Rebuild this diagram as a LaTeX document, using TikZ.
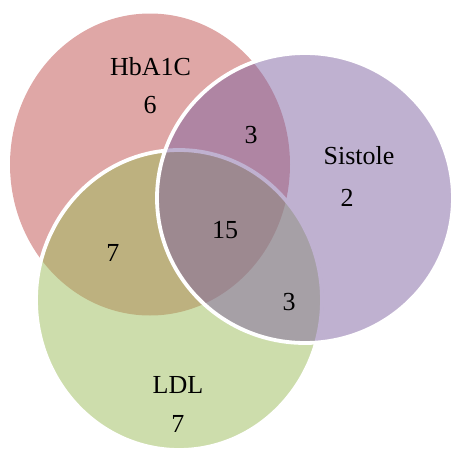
\documentclass[tikz,border=0pt]{standalone}
\usepackage{fontspec}
\setmainfont{Liberation Serif}
\definecolor{hbared}{RGB}{192,80,77}
\definecolor{ldlgreen}{RGB}{155,187,89}
\definecolor{sispurple}{RGB}{128,100,162}
\begin{document}
\begin{tikzpicture}[x=1pt, y=-1pt,
    set/.style={fill opacity=0.5},
    rim/.style={draw=white, line width=3.8pt},
    lbl/.style={anchor=base, inner sep=0pt, font=\fontsize{26}{31}\selectfont}]
    \clip (0, 0) rectangle (451, 450);
    % the three sets
    \fill[set, hbared] (150, 164.5) ellipse [x radius=140pt, y radius=151pt];
    \filldraw[set, rim, fill=ldlgreen] (179, 300) ellipse [x radius=143pt, y radius=150pt];
    \filldraw[set, rim, fill=sispurple] (305, 198) ellipse [x radius=148pt, y radius=145pt];
    % names and counts
    \node[lbl] (hba) at (150.5, 75) {HbA1C};
    \node[lbl] (hban) at (150, 113) {6};
    \node[lbl] (sis) at (359, 164) {Sistole};
    \node[lbl] (sisn) at (347, 206) {2};
    \node[lbl] (ldl) at (178, 393) {LDL};
    \node[lbl] (ldln) at (178, 432) {7};
    \node[lbl] (hbasis) at (251, 143) {3};
    \node[lbl] (hbaldl) at (113, 261) {7};
    \node[lbl] (sisldl) at (289, 310) {3};
    \node[lbl] (all) at (225, 238) {15};
\end{tikzpicture}
\end{document}
